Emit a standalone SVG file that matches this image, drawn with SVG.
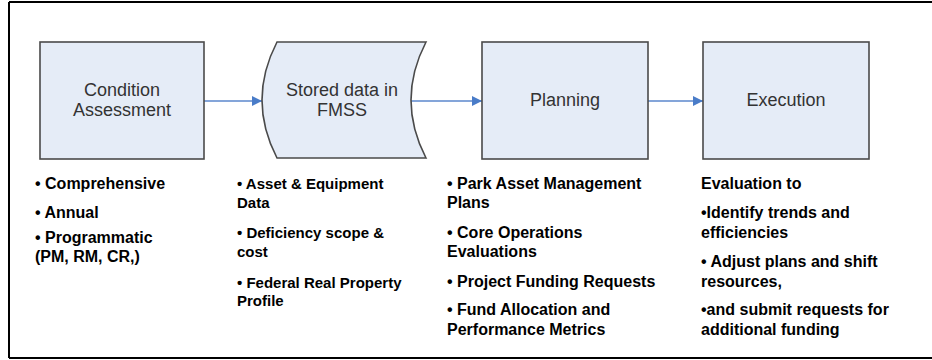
<svg xmlns="http://www.w3.org/2000/svg" width="932" height="360" viewBox="0 0 932 360">
<defs>
<style>
.node{fill:#E5ECF7;stroke:#4a4a4a;stroke-width:1.6}
.lbl{font-family:"Liberation Sans",Arial,sans-serif;font-size:18px;fill:#333;text-anchor:middle}
.txt{font-family:"Liberation Sans",Arial,sans-serif;font-size:16px;font-weight:bold;fill:#000}
.txt2{font-size:15px}
.conn{stroke:#5B87CC;stroke-width:1.6;fill:none;marker-end:url(#ah)}
</style>
<marker id="ah" viewBox="0 0 10 10" refX="10" refY="5" markerWidth="11" markerHeight="10" markerUnits="userSpaceOnUse" orient="auto">
<path d="M0,0 L10,5 L0,10 Z" fill="#4A7CC8"/>
</marker>
</defs>
<rect width="932" height="360" fill="#fff"/>
<path d="M9,2 V358 M9,358 H932 M9,2 H932" stroke="#000" stroke-width="2" fill="none"/>
<g id="connectors">
<line class="conn" x1="204" y1="101" x2="262" y2="101"/>
<line class="conn" x1="411" y1="101" x2="482" y2="101"/>
<line class="conn" x1="648" y1="101" x2="703" y2="101"/>
</g>
<g id="condition">
<rect class="node" x="40" y="42" width="164" height="117"/>
<text class="lbl" x="122" y="96">Condition</text>
<text class="lbl" x="122" y="116">Assessment</text>
</g>
<g id="stored">
<path class="node" d="M277,42 L426,42 Q396,100 426,158 L277,158 Q247,100 277,42 Z"/>
<text class="lbl" x="342" y="96">Stored data in</text>
<text class="lbl" x="342" y="116">FMSS</text>
</g>
<g id="planning">
<rect class="node" x="482" y="42" width="166" height="117"/>
<text class="lbl" x="565" y="106">Planning</text>
</g>
<g id="execution">
<rect class="node" x="703" y="42" width="166" height="117"/>
<text class="lbl" x="786" y="106">Execution</text>
</g>
<g id="list1" class="txt">
<text x="35" y="189">• Comprehensive</text>
<text x="35" y="218">• Annual</text>
<text x="35" y="243">• Programmatic</text>
<text x="35" y="262">(PM, RM, CR,)</text>
</g>
<g id="list2" class="txt txt2">
<text x="237" y="189">•  Asset &amp; Equipment</text>
<text x="237" y="208">Data</text>
<text x="237" y="238">• Deficiency scope &amp;</text>
<text x="237" y="257">cost</text>
<text x="237" y="288">• Federal Real Property</text>
<text x="237" y="306">Profile</text>
</g>
<g id="list3" class="txt">
<text x="447" y="189">•  Park Asset Management</text>
<text x="447" y="208">Plans</text>
<text x="447" y="238">• Core Operations</text>
<text x="447" y="257">Evaluations</text>
<text x="447" y="287">• Project Funding Requests</text>
<text x="447" y="315">• Fund Allocation and</text>
<text x="447" y="335">Performance Metrics</text>
</g>
<g id="list4" class="txt">
<text x="701" y="189">Evaluation to</text>
<text x="701" y="218">•Identify trends and</text>
<text x="701" y="238">efficiencies</text>
<text x="701" y="267">• Adjust plans and shift</text>
<text x="701" y="287">resources,</text>
<text x="701" y="315">•and submit requests for</text>
<text x="701" y="335">additional funding</text>
</g>
</svg>
